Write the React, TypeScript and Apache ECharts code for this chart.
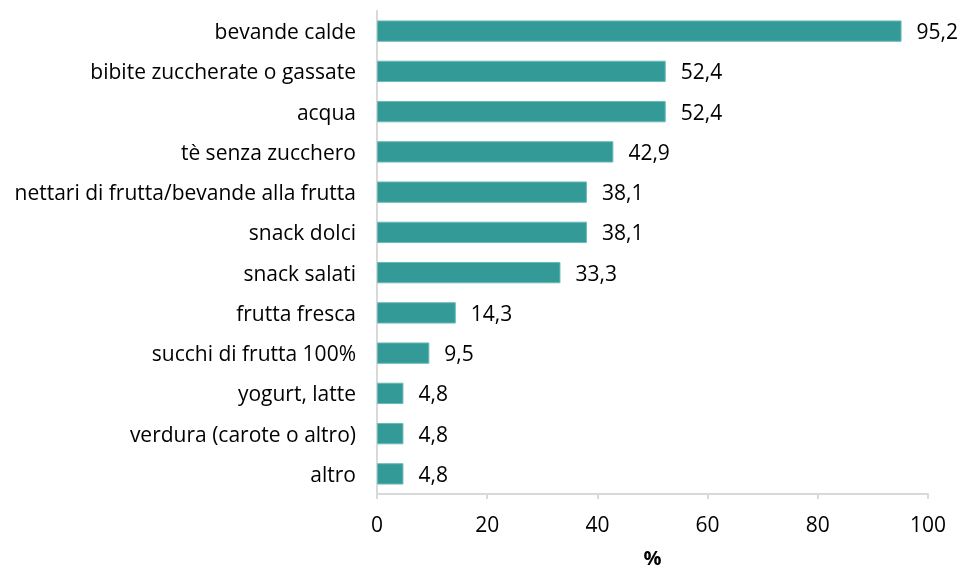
import React, { useEffect, useRef } from "react";
import * as echarts from "echarts";

const categories = [
  "bevande calde",
  "bibite zuccherate o gassate",
  "acqua",
  "tè senza zucchero",
  "nettari di frutta/bevande alla frutta",
  "snack dolci",
  "snack salati",
  "frutta fresca",
  "succhi di frutta 100%",
  "yogurt, latte",
  "verdura (carote o altro)",
  "altro",
];
const values = [95.2, 52.4, 52.4, 42.9, 38.1, 38.1, 33.3, 14.3, 9.5, 4.8, 4.8, 4.8];
const xTicks = [0, 20, 40, 60, 80, 100];

const FONT = "'Open Sans', sans-serif";

export default function App() {
  const ref = useRef<HTMLDivElement>(null);
  useEffect(() => {
    if (!ref.current) return;
    const chart = echarts.init(ref.current, null, { renderer: "svg" });
    chart.setOption({
      animation: false,
      grid: { left: 377, right: 32, top: 11, bottom: 73, containLabel: false },
      xAxis: {
        type: "value",
        min: xTicks[0],
        max: xTicks[xTicks.length - 1],
        interval: 20,
        name: "%",
        nameLocation: "middle",
        nameGap: 53,
        nameTextStyle: { fontFamily: FONT, fontSize: 20, fontWeight: "bold", color: "#000" },
        axisLine: { show: true, lineStyle: { color: "#d9d9d9", width: 2 } },
        axisTick: { show: true, length: 5, lineStyle: { color: "#d9d9d9", width: 2 } },
        axisLabel: { fontFamily: FONT, fontSize: 21, color: "#000", margin: 19 },
        splitLine: { show: false },
      },
      yAxis: {
        type: "category",
        inverse: true,
        data: categories,
        axisLine: { show: true, lineStyle: { color: "#d9d9d9", width: 2 } },
        axisTick: { show: false },
        axisLabel: { fontFamily: FONT, fontSize: 21, color: "#000", margin: 21 },
      },
      series: [
        {
          type: "bar",
          data: values,
          barCategoryGap: "47%",
          itemStyle: { color: "#339a97", borderColor: "#6bbab7", borderWidth: 1 },
          label: {
            show: true,
            position: "right",
            distance: 15,
            fontFamily: FONT,
            fontSize: 21,
            color: "#000",
            formatter: (p: any) => String(p.value).replace(".", ","),
          },
        },
      ],
    });
    return () => chart.dispose();
  }, []);
  return (
    <div
      ref={ref}
      style={{ position: "fixed", left: 0, top: 0, width: 960, height: 572 }}
    />
  );
}
